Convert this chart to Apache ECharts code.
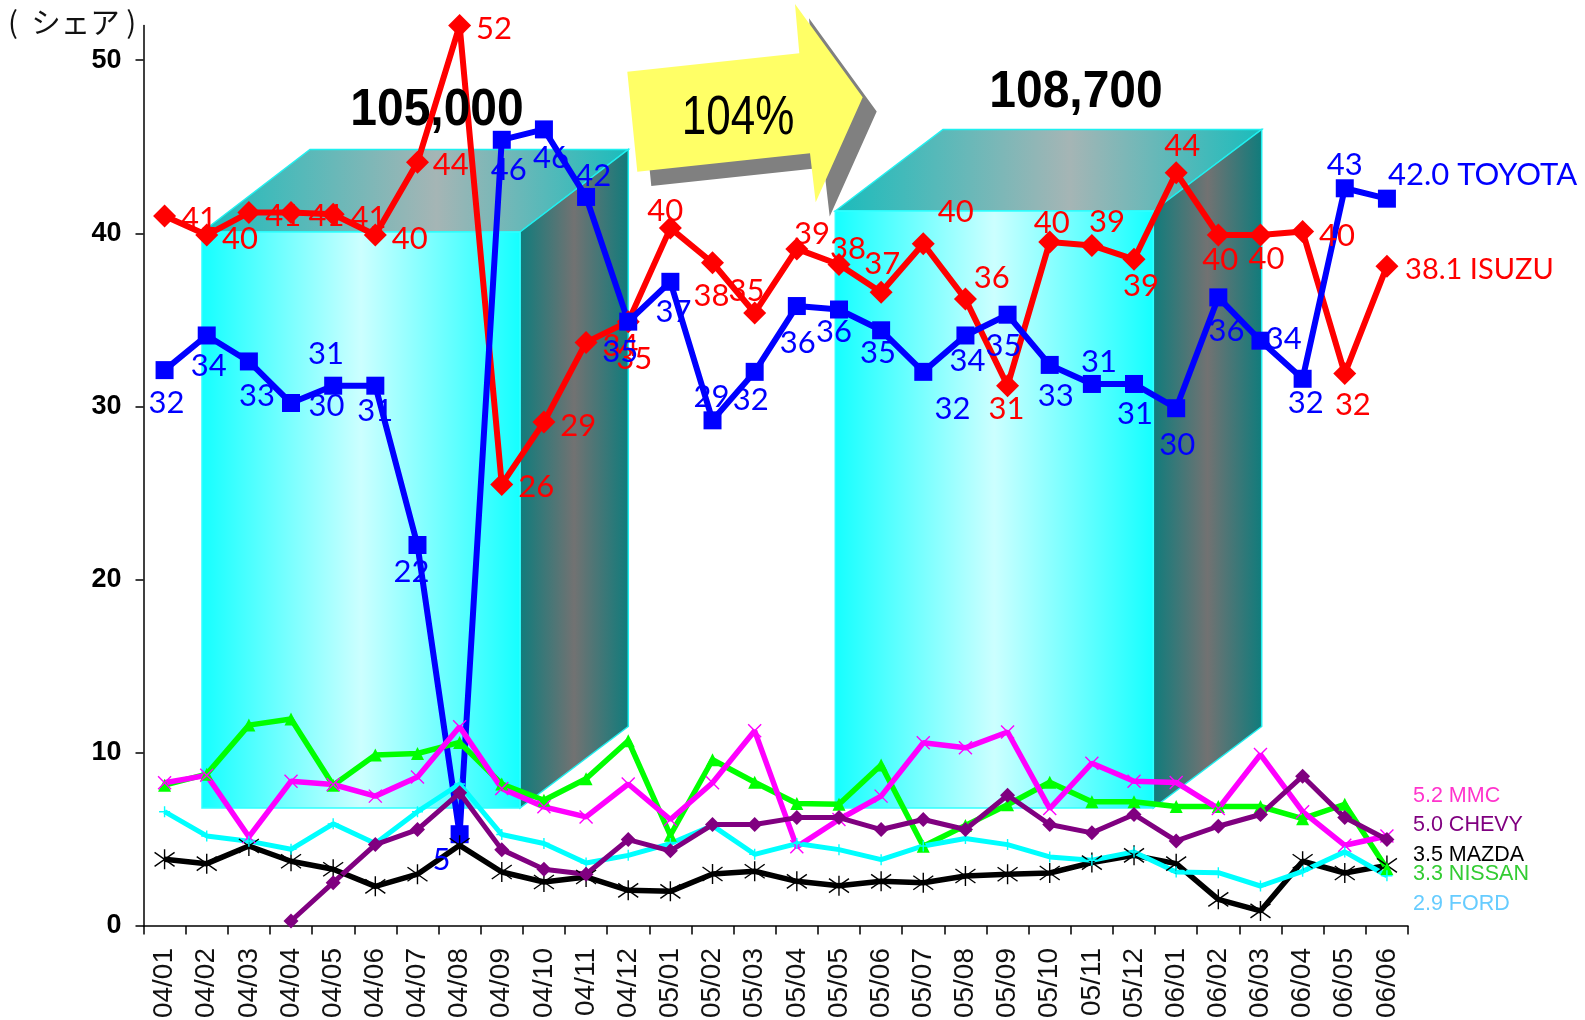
<!DOCTYPE html>
<html><head><meta charset="utf-8">
<script src="https://cdn.jsdelivr.net/npm/echarts@6/dist/echarts.min.js"></script>
<style>html,body{margin:0;padding:0;background:#fff}#c{width:1585px;height:1020px}</style>
</head><body><div id="c"></div>
<script>
const categories = ['04/01','04/02','04/03','04/04','04/05','04/06','04/07','04/08','04/09','04/10','04/11','04/12',
 '05/01','05/02','05/03','05/04','05/05','05/06','05/07','05/08','05/09','05/10','05/11','05/12',
 '06/01','06/02','06/03','06/04','06/05','06/06'];
const toyota = [32.1,34.1,32.6,30.2,31.2,31.2,22.0,5.3,45.4,46.0,42.1,34.9,37.2,29.2,32.0,35.8,35.6,34.4,32.0,34.1,35.3,32.4,31.3,31.3,29.9,36.3,33.8,31.6,42.6,42.0];
const isuzu = [41.0,39.9,41.2,41.2,41.1,39.9,44.1,52.0,25.5,29.1,33.7,34.9,40.3,38.3,35.4,39.1,38.2,36.6,39.4,36.2,31.2,39.5,39.3,38.5,43.5,39.9,39.9,40.1,31.9,38.1];
const nissan = [8.13,8.77,11.6,11.95,8.13,9.87,9.96,10.6,8.2,7.26,8.5,10.7,5.24,9.6,8.3,7.07,7.03,9.3,4.6,5.8,7.0,8.3,7.17,7.17,6.9,6.9,6.9,6.2,7.03,3.3];
const mmc = [8.27,8.7,5.15,8.36,8.17,7.5,8.6,11.5,7.94,6.88,6.3,8.2,6.15,8.27,11.27,4.57,6.15,7.5,10.58,10.29,11.2,6.78,9.4,8.36,8.29,6.78,9.9,6.6,4.66,5.2];
const ford = [6.6,5.2,4.9,4.43,5.9,4.76,6.6,8.2,5.28,4.76,3.64,4.08,4.76,5.8,4.14,4.76,4.41,3.83,4.62,5.05,4.7,3.99,3.8,4.28,3.12,3.08,2.31,3.16,4.28,2.9];
const chevy = [null,null,null,0.29,2.5,4.7,5.57,7.69,4.41,3.28,2.99,4.99,4.34,5.86,5.86,6.26,6.26,5.57,6.15,5.57,7.55,5.86,5.38,6.44,4.91,5.76,6.44,8.65,6.26,5.0];
const mazda = [3.85,3.6,4.62,3.74,3.28,2.29,2.99,4.66,3.12,2.54,2.83,2.06,2.0,3.0,3.16,2.58,2.33,2.58,2.5,2.89,2.99,3.06,3.66,4.08,3.6,1.54,0.87,3.74,3.06,3.5];

const toyotaLabels = ['32','34','33','30','31','31','22','5','46','46','42','35','37','29','32','36','36','35','32','34','35','33','31','31','30','36','34','32','43','42.0 TOYOTA'];
const isuzuLabels = ['41','40','41','41','41','40','44','52','26','29','34','35','40','38','35','39','38','37','40','36','31','40','39','39','44','40','40','40','32','38.1 ISUZU'];

/* label placement, kept apart from the values */
const toyotaOffsets = [[2,32],[2,29],[8,33],[35,2],[-7,-32],[0,24],[-6,26],[-18,25],[7,29],[7,27],[7,-22],[-8,29],[3,29],[-1,-24],[-4,27],[1,36],[-5,21],[-3,21],[29,36],[2,24],[-4,30],[6,30],[7,-23],[1,29],[1,35],[8,32],[23,-3],[3,23],[0,-24],[1,-24]];
const isuzuOffsets = [[34,2],[33,3],[34,2],[35,2],[35,3],[34,3],[33,2],[34,2],[34,2],[34,3],[34,3],[6,36],[-5,-18],[-1,32],[-8,-23],[15,-16],[9,-16],[1,-29],[32,-32],[26,-22],[-1,22],[2,-20],[15,-24],[7,25],[6,-27],[2,24],[6,23],[34,3],[8,30],[18,2]];

const K = 1.011;
function labelled(values, texts, offsets, color, lastSize) {
  return values.map((v, i) => {
    const last = i === values.length - 1;
    return {
      value: v,
      label: {
        show: true, position: 'inside', formatter: texts[i], color: color,
        fontFamily: 'Lato', fontSize: last ? lastSize : 31, verticalAlign: 'middle',
        align: last ? 'left' : 'center',
        offset: [offsets[i][0] * K, offsets[i][1] * K + 1]
      }
    };
  });
}
const cyanFront = {type:'linear',x:0,y:0,x2:1,y2:0,colorStops:[{offset:0,color:'#14ffff'},{offset:0.5,color:'#ccffff'},{offset:1,color:'#14ffff'}]};
const topFace = {type:'linear',x:0,y:0,x2:1,y2:0,colorStops:[{offset:0,color:'#1abcbc'},{offset:0.55,color:'#a5b5b5'},{offset:1,color:'#1abcbc'}]};
const sideFace = {type:'linear',x:0,y:0,x2:1,y2:0,colorStops:[{offset:0,color:'#0f7c7c'},{offset:0.5,color:'#727272'},{offset:1,color:'#0f7c7c'}]};
function poly(points, fill, stroke, z) {
  return {type:'polygon', z:z||0, silent:true, shape:{points}, style:{fill, stroke:stroke||null, lineWidth:stroke?1.5:0}};
}
function box(l, r, back, bl, top, backTop, bottom, sideBottom) {
  return [
    poly([[l,top],[bl,backTop],[back,backTop],[r,top]], topFace, '#1ff0f0'),
    poly([[r,top],[back,backTop],[back,sideBottom],[r,bottom]], sideFace, '#1ff0f0'),
    poly([[l,top],[r,top],[r,bottom],[l,bottom]], cyanFront, '#30ffff')
  ];
}
const arrow = [[627.3,71.7],[799.3,53.3],[795,4],[862.7,97.3],[815.7,202.3],[810,153.3],[637.3,171.7]];
const textStyle = (t,x,y,size,weight,color,align,font,scaleY) => ({type:'text', z:6, silent:true, x, y, scaleY:scaleY||1,
  style:{text:t, fill:color, fontSize:size, fontWeight:weight, fontFamily:font||'Liberation Sans', align:align||'left', verticalAlign:'middle'}});

const mkLine = (name, data, color, width, symbol, size, extra) => Object.assign({
  name, type:'line', data, symbol, symbolSize:size, showAllSymbol:true, connectNulls:false,
  lineStyle:{color, width}, itemStyle:{color, borderColor:color, borderWidth:0}, emphasis:{disabled:true}
}, extra||{});
const stroked = (color, w) => ({itemStyle:{color, borderColor:color, borderWidth:w}});

const chart = echarts.init(document.getElementById('c'), null, {renderer:'canvas'});
chart.setOption({
  animation:false,
  backgroundColor:'#fff',
  grid:{left:143.5, right:177, top:25.5, bottom:94, containLabel:false, outerBoundsMode:'none'},
  xAxis:{type:'category', data:categories, boundaryGap:true,
    axisLine:{lineStyle:{color:'#000',width:1.5}},
    axisTick:{show:true, length:8.5, lineStyle:{color:'#000',width:1.5}, interval:0},
    axisLabel:{rotate:90, interval:0, margin:22, color:'#111', fontSize:28, fontFamily:'Liberation Sans', padding:[3,0,0,0]},
    splitLine:{show:false}},
  yAxis:{type:'value', min:0, max:52, interval:10,
    axisLine:{show:true, lineStyle:{color:'#000',width:1.5}},
    axisTick:{show:true, length:8, lineStyle:{color:'#000',width:1.5}},
    axisLabel:{margin:22, color:'#000', fontSize:27, fontWeight:'bold', fontFamily:'Liberation Sans',
      showMaxLabel:false, padding:[6,0,0,0]},
    splitLine:{show:false}},
  graphic:{elements:[
    ...box(202,520,628.3,310,232,149.5,808,726.5),
    ...box(835.3,1153.3,1261.7,943,211,129.5,808,726.5),
    poly(arrow.map(p=>[p[0]+14,p[1]+14.3]), '#808080', null, 1),
    poly(arrow, '#ffff66', null, 2),
    textStyle('104%',738,118,44,'normal','#000','center','Liberation Sans',1.28),
    textStyle('105,000',437,111,48,'bold','#000','center','Liberation Sans',1.08),
    textStyle('108,700',1076,93,48,'bold','#000','center','Liberation Sans',1.08),
    textStyle('(  シェア )',8,22,29.5,'normal','#111','left','Noto Sans CJK JP'),
    textStyle('5.2 MMC',1413,796,21.5,'normal','#ff33cc'),
    textStyle('5.0 CHEVY',1413,825,21.5,'normal','#800080'),
    textStyle('3.5 MAZDA',1413,854.7,21.5,'normal','#000'),
    textStyle('3.3 NISSAN',1413,874,21.5,'normal','#33cc33'),
    textStyle('2.9 FORD',1413,903.7,21.5,'normal','#66ccff')
  ]},
  series:[
    mkLine('ISUZU', labelled(isuzu,isuzuLabels,isuzuOffsets,'#ff0000',29), '#ff0000', 6, 'diamond', 23),
    mkLine('TOYOTA', labelled(toyota,toyotaLabels,toyotaOffsets,'#0000ff',31), '#0000ff', 6, 'rect', 18),
    mkLine('MAZDA', mazda, '#000000', 5.5, 'path://M5,0L5,10M0,1.5L10,8.5M0,8.5L10,1.5', 20, stroked('#000000',1.4)),
    mkLine('NISSAN', nissan, '#00ff00', 5.5, 'triangle', 13),
    mkLine('MMC', mmc, '#ff00ff', 5.5, 'path://M0,0L10,10M0,10L10,0', 13, stroked('#ff00ff',1.4)),
    mkLine('FORD', ford, '#00ffff', 5, 'path://M5,0L5,10M0,5L10,5', 11, stroked('#00ffff',1.4)),
    mkLine('CHEVY', chevy, '#800080', 5, 'diamond', 15)
  ]
});
</script></body></html>
